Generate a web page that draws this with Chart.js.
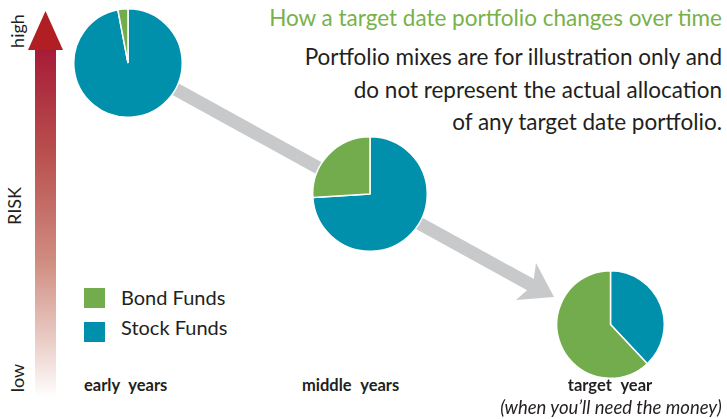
<!DOCTYPE html>
<html>
<head>
<meta charset="utf-8">
<script src="https://cdn.jsdelivr.net/npm/chart.js@4"></script>
<style>
  body { margin: 0; background: #fff; }
  #wrap { position: relative; width: 727px; height: 419px; overflow: hidden; font-family: Lato, "Open Sans", sans-serif; color: #231f20; }
  .pie { position: absolute; }
  .abs { position: absolute; white-space: nowrap; }
  .rot { transform: rotate(-90deg); transform-origin: center; font-size: 18px; }
  .sub { right: 5px; font-size: 22.5px; text-align: right; }
  .stage { font-weight: bold; font-size: 16.5px; word-spacing: 5px; }
  .key { width: 21px; height: 20px; position: absolute; }
  .keytxt { font-size: 20px; }
</style>
</head>
<body>
<div id="wrap">
  <svg width="727" height="419" style="position:absolute;left:0;top:0">
    <defs>
      <linearGradient id="risk" x1="0" y1="0" x2="0" y2="1">
        <stop offset="0" stop-color="#a71b37"/>
        <stop offset="0.3" stop-color="#b9504e"/>
        <stop offset="0.6" stop-color="#cf8a7e"/>
        <stop offset="0.85" stop-color="#ebd0ca"/>
        <stop offset="1" stop-color="#ffffff"/>
      </linearGradient>
    </defs>
    <rect x="35" y="49" width="21" height="348" fill="url(#risk)"/>
    <polygon points="28,50 63,50 45.5,11" fill="#b11e24"/>
    <line x1="128" y1="63" x2="533" y2="286" stroke="#c8c9cb" stroke-width="13"/>
    <polygon points="536,263 554,297 516,300 533,285" fill="#c8c9cb"/>
  </svg>

  <div id="pies"></div>

  <div class="abs" style="right:5px;top:4px;font-size:22.5px;color:#78b14a">How a target date portfolio changes over time</div>
  <div class="abs sub" style="top:43px">Portfolio mixes are for illustration only and</div>
  <div class="abs sub" style="top:76px">do not represent the actual allocation</div>
  <div class="abs sub" style="top:108px">of any target date portfolio.</div>

  <div class="abs rot" style="left:0;top:20px;width:34px;text-align:center">high</div>
  <div class="abs rot" style="left:-6px;top:195px;width:40px;text-align:center">RISK</div>
  <div class="abs rot" style="left:0;top:367px;width:34px;text-align:center">low</div>

  <div class="key" style="left:84px;top:288px;background:#72ac4d"></div>
  <div class="key" style="left:84px;top:322px;background:#0090ab"></div>
  <div class="abs keytxt" style="left:121px;top:285px">Bond Funds</div>
  <div class="abs keytxt" style="left:121px;top:315px">Stock Funds</div>

  <div class="abs stage" style="left:84px;top:375px">early years</div>
  <div class="abs stage" style="left:302px;top:375px">middle years</div>
  <div class="abs stage" style="left:550px;top:375px;width:120px;text-align:center">target year</div>
  <div class="abs" style="left:480px;top:396px;width:262px;text-align:center;font-style:italic;font-size:18.5px">(when you’ll need the money)</div>
</div>
<script>
const labels = ["Stock Funds", "Bond Funds"];
const stages = ["early years", "middle years", "target year"];
const stockFunds = [97, 74, 38];
const bondFunds = [3, 26, 62];

const colors = ["#0090ab", "#72ac4d"];

// where each pie sits: centre x, centre y, radius
const spots = [
  [128, 63, 54],
  [370, 194, 57],
  [610, 324, 53.5],
];

const holder = document.getElementById("pies");

stages.forEach((stage, i) => {
  const [cx, cy, r] = spots[i];
  const size = Math.round(r * 2 + 2);
  const canvas = document.createElement("canvas");
  canvas.className = "pie";
  canvas.width = size;
  canvas.height = size;
  canvas.style.width = size + "px";
  canvas.style.height = size + "px";
  canvas.style.left = (cx - size / 2) + "px";
  canvas.style.top = (cy - size / 2) + "px";
  holder.appendChild(canvas);

  new Chart(canvas, {
    type: "pie",
    data: {
      labels: labels,
      datasets: [
        {
          label: stage,
          data: [stockFunds[i], bondFunds[i]],
          backgroundColor: colors,
          borderColor: "#ffffff",
          borderWidth: 1.5,
          hoverOffset: 0,
        },
      ],
    },
    options: {
      responsive: false,
      animation: false,
      events: [],
      layout: { padding: 0 },
      plugins: {
        legend: { display: false },
        tooltip: { enabled: false },
      },
    },
  });
});
</script>
</body>
</html>
